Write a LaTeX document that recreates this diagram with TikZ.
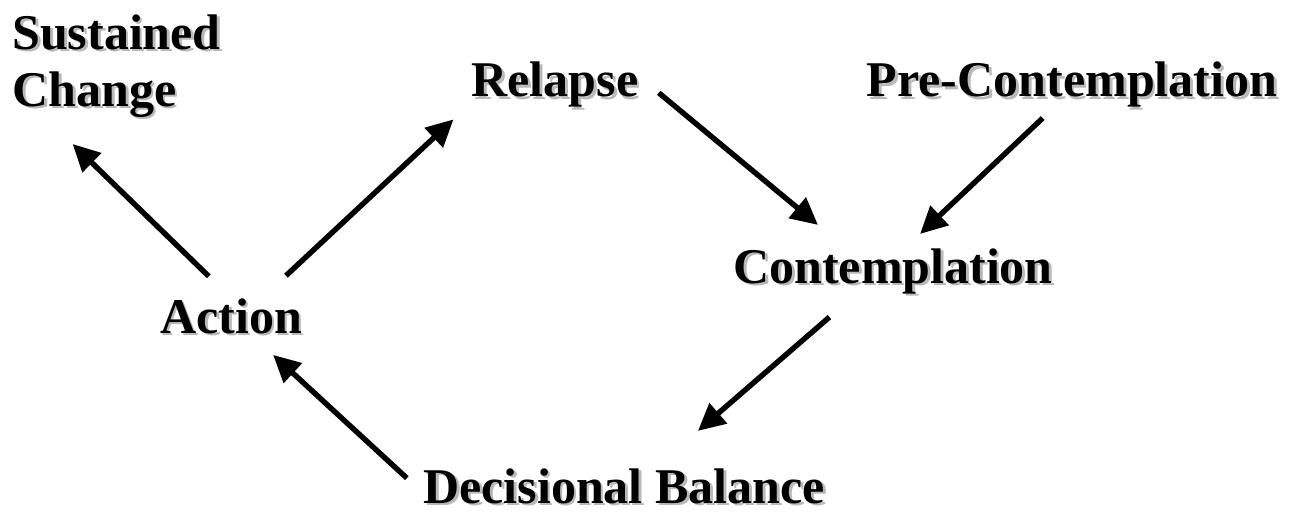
\documentclass[tikz,border=0pt]{standalone}
\usepackage{fontspec}
\setmainfont{Liberation Serif}
\usetikzlibrary{arrows.meta}
\definecolor{shadowColor}{RGB}{185,185,185}
\tikzstyle{diagram} = [x = .5pt, y = -.5pt]
\tikzstyle{stageText} = [font=\fontsize{25}{28.5}\selectfont\bfseries, inner sep=0pt, anchor=base]
\tikzstyle{stageShadow} = [stageText, color=shadowColor]
\tikzstyle{stageArrow} = [line width=2.7pt, -{Triangle[length=13.5pt, width=13pt]}]
\newcommand{\shadowOffset}{1.4pt}
\newcommand{\stage}[4]{
  \node [stageShadow, #4] at ([shift={(\shadowOffset,-\shadowOffset)}] #2) {#3};
  \node [stageText, #4] (#1) at (#2) {#3};
}

\begin{document}
\begin{tikzpicture}[diagram]
        \useasboundingbox (0,0) rectangle (1298,514);
        \stage{sus}{12,14}{Sustained\\Change}{align=left, anchor=north west}
        \stage{rel}{555,97}{Relapse}{}
        \stage{pre}{1072,97}{Pre-Contemplation}{}
        \stage{con}{893,283}{Contemplation}{}
        \stage{act}{231,333}{Action}{}
        \stage{dec}{624,503}{Decisional Balance}{}

        \draw [stageArrow, shorten < = 15.5pt, shorten > = 19pt] (act.north) -- (sus.216);
        \draw [stageArrow, shorten < = 16.3pt, shorten > = 12.2pt] (act.30) -- (rel.192);
        \draw [stageArrow, shorten < = 13pt, shorten > = 18pt] (rel.6) -- (con.154);
        \draw [stageArrow, shorten < = 7.3pt, shorten > = 10.2pt] (pre.231) -- (con.62);
        \draw [stageArrow, shorten < = 17.6pt, shorten > = 28.3pt] (con.212) -- (dec.30);
        \draw [stageArrow, shorten < = 10.9pt, shorten > = 15.5pt] (dec.182) -- (act.317);
      \end{tikzpicture}
\end{document}
